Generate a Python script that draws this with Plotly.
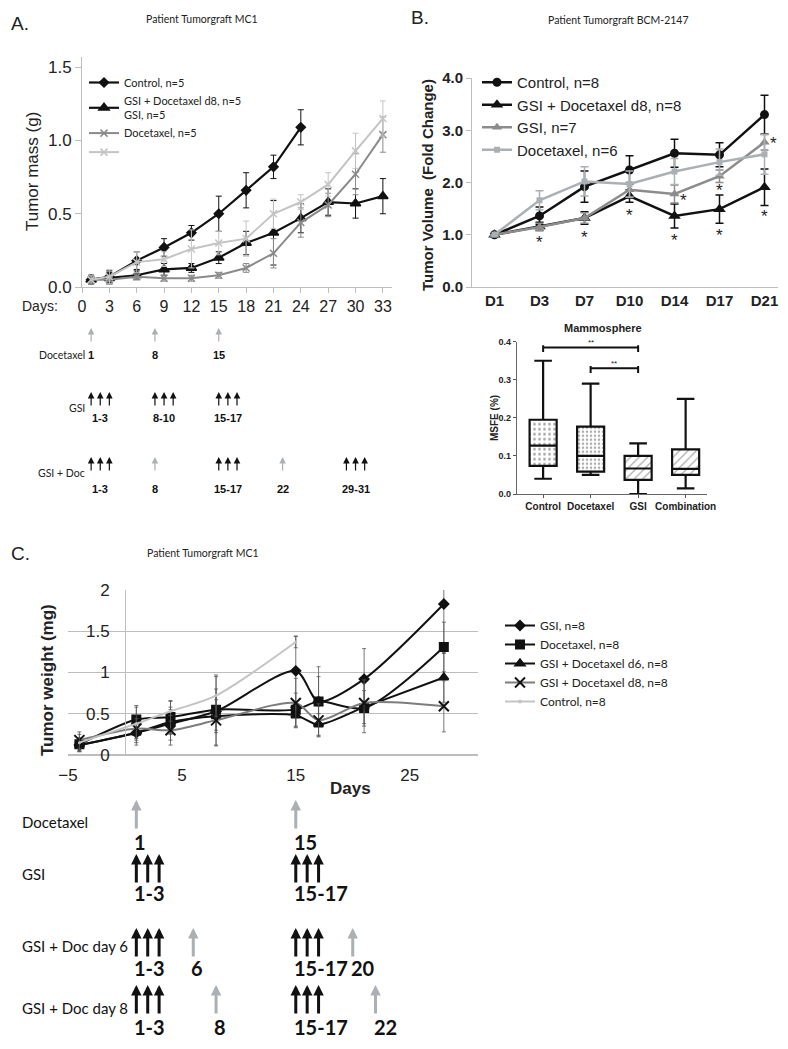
import plotly.graph_objects as go

W, H = 788, 1049
OFF = 8  # page body margin offset of the plot div


def fx(px):
    return (px - OFF) / W


def fy(py):
    return 1 - (py - OFF) / H


# ---------------- Panel A data ----------------
a_days = [1, 3, 6, 9, 12, 15, 18, 21, 24, 27, 30, 33]
a_control = [0.05, 0.07, 0.18, 0.27, 0.37, 0.50, 0.66, 0.82, 1.09]
a_control_err = [0.03, 0.04, 0.06, 0.06, 0.05, 0.12, 0.12, 0.08, 0.12]
a_combo = [0.05, 0.06, 0.08, 0.12, 0.13, 0.20, 0.30, 0.37, 0.47, 0.58, 0.57, 0.62]
a_combo_err = [0.03, 0.04, 0.03, 0.04, 0.03, 0.04, 0.08, 0.22, 0.10, 0.09, 0.10, 0.12]
a_gsi = [0.05, 0.05, 0.07, 0.06, 0.06, 0.08, 0.13, 0.23, 0.44, 0.56, 0.77, 1.04]
a_gsi_err = [0.02, 0.03, 0.02, 0.02, 0.02, 0.02, 0.03, 0.10, 0.10, 0.08, 0.14, 0.12]
a_doc = [0.05, 0.07, 0.17, 0.19, 0.26, 0.30, 0.33, 0.50, 0.58, 0.70, 0.93, 1.15]
a_doc_err = [0.03, 0.05, 0.07, 0.05, 0.13, 0.08, 0.12, 0.10, 0.05, 0.08, 0.12, 0.12]
a_names = ["Control, n=5", "GSI + Docetaxel d8, n=5<br>GSI, n=5", "Docetaxel, n=5", " "]
a_ticks = [0, 3, 6, 9, 12, 15, 18, 21, 24, 27, 30, 33]

# schedule A
a_doc_days = [1, 8, 15]
a_doc_labels = ["1", "8", "15"]
a_gsi_days = [1, 2, 3, 8, 9, 10, 15, 16, 17]
a_gsi_labels = ["1-3", "8-10", "15-17"]
a_cmb_gsi_days = [1, 2, 3, 15, 16, 17, 29, 30, 31]
a_cmb_doc_days = [8, 22]
a_cmb_labels = ["1-3", "8", "15-17", "22", "29-31"]

# ---------------- Panel B data ----------------
b_cats = ["D1", "D3", "D7", "D10", "D14", "D17", "D21"]
b_control = [1.0, 1.36, 1.92, 2.24, 2.56, 2.53, 3.30]
b_control_err = [0.0, 0.17, 0.30, 0.27, 0.27, 0.23, 0.37]
b_combo = [1.0, 1.16, 1.32, 1.74, 1.36, 1.49, 1.91]
b_combo_err = [0.0, 0.08, 0.12, 0.12, 0.23, 0.27, 0.35]
b_gsi = [1.0, 1.15, 1.32, 1.86, 1.78, 2.12, 2.77]
b_gsi_err = [0.0, 0.07, 0.10, 0.14, 0.17, 0.12, 0.15]
b_doc = [1.0, 1.66, 2.02, 1.97, 2.21, 2.39, 2.54]
b_doc_err = [0.0, 0.18, 0.28, 0.25, 0.25, 0.25, 0.38]
b_names = ["Control, n=8", "GSI + Docetaxel d8, n=8", "GSI, n=7", "Docetaxel, n=6"]
b_star_cats = ["D3", "D7", "D10", "D14", "D14", "D17", "D17", "D21", "D21"]
b_star_vals = [0.92, 1.03, 1.45, 0.96, 1.73, 1.06, 1.93, 1.43, 2.82]
b_star_right = [False, False, False, False, True, False, False, False, True]

# mammosphere
m_cats = ["Control", "Docetaxel", "GSI", "Combination"]
m_low = [0.04, 0.05, 0.0, 0.015]
m_q1 = [0.074, 0.059, 0.037, 0.05]
m_med = [0.127, 0.10, 0.067, 0.066]
m_q3 = [0.195, 0.177, 0.10, 0.117]
m_high = [0.35, 0.29, 0.133, 0.25]
m_pattern = [".", ".", "/", "/"]
m_sig_from = ["Control", "Docetaxel"]
m_sig_to = ["GSI", "GSI"]
m_sig_y = [0.385, 0.33]

# ---------------- Panel C data ----------------
c_days = [-4, 1, 4, 8, 15, 17, 21, 28]
c_gsi = [0.12, 0.27, 0.38, 0.53, 1.02, 0.65, 0.92, 1.83]
c_gsi_err = [0.08, 0.15, 0.20, 0.42, 0.42, 0.42, 0.37, 0.60]
c_doc = [0.13, 0.43, 0.46, 0.55, 0.55, 0.65, 0.57, 1.31]
c_doc_err = [0.08, 0.17, 0.20, 0.25, 0.20, 0.30, 0.30, 0.30]
c_d6 = [0.12, 0.27, 0.40, 0.47, 0.48, 0.37, 0.58, 0.94]
c_d6_err = [0.08, 0.12, 0.15, 0.20, 0.14, 0.13, 0.20, 0.30]
c_d8 = [0.18, 0.32, 0.30, 0.42, 0.63, 0.42, 0.63, 0.59]
c_d8_err = [0.10, 0.12, 0.18, 0.30, 0.30, 0.20, 0.28, 0.31]
c_ctrl = [0.15, 0.38, 0.53, 0.72, 1.37]
c_ctrl_err = [0.10, 0.20, 0.12, 0.25, 0.07]
c_names = ["GSI, n=8", "Docetaxel, n=8", "GSI + Docetaxel d6, n=8",
           "GSI + Docetaxel d8, n=8", "Control, n=8"]
c_ticks = [-5, 5, 15, 25]

# schedule C
c_doc_days = [1, 15]
c_doc_labels = ["1", "15"]
c_gsi_days = [1, 2, 3, 15, 16, 17]
c_gsi_labels = ["1-3", "15-17"]
c_d6_doc_days = [6, 20]
c_d6_labels = ["1-3", "6", "15-17", "20"]
c_d8_doc_days = [8, 22]
c_d8_labels = ["1-3", "8", "15-17", "22"]

BLACK = "#111111"
MID = "#8a8a8a"
LIGHT = "#c4c4c4"
AXC = "#bdbdbd"

fig = go.Figure()


def eb(arr, color, w=3, th=1):
    return dict(type="data", array=arr, visible=True, color=color, width=w, thickness=th)


# ---- Panel A traces ----
a_specs = [
    (a_control, a_control_err, BLACK, "diamond", 7, 2.2),
    (a_combo, a_combo_err, BLACK, "triangle-up", 9, 2.2),
    (a_gsi, a_gsi_err, MID, "x-thin", 7, 2),
    (a_doc, a_doc_err, LIGHT, "x-thin", 7, 2),
]
for (vals, err, col, sym, sz, lw), nm in zip(a_specs, a_names):
    fig.add_trace(go.Scatter(
        x=a_days[:len(vals)], y=vals, name=nm, mode="lines+markers",
        line=dict(color=col, width=lw),
        marker=dict(symbol=sym, size=sz, color=col, line=dict(color=col, width=1.5)),
        error_y=eb(err, col), xaxis="x", yaxis="y", legend="legend"))

# ---- Panel B traces ----
b_specs = [
    (b_control, b_control_err, BLACK, "circle", 9, 2.5),
    (b_combo, b_combo_err, BLACK, "triangle-up", 11, 2.5),
    (b_gsi, b_gsi_err, "#8c8c8c", "triangle-up", 9, 2.5),
    (b_doc, b_doc_err, "#aab0b3", "square", 6, 2.5),
]
for (vals, err, col, sym, sz, lw), nm in zip(b_specs, b_names):
    fig.add_trace(go.Scatter(
        x=b_cats, y=vals, name=nm, mode="lines+markers",
        line=dict(color=col, width=lw),
        marker=dict(symbol=sym, size=sz, color=col),
        error_y=eb(err, col, w=4, th=1.5), xaxis="x2", yaxis="y2", legend="legend2"))

# ---- Mammosphere ----
fig.add_trace(go.Bar(
    x=m_cats, base=m_q1, y=[b - a for a, b in zip(m_q1, m_q3)], width=0.57,
    marker=dict(color="white", line=dict(width=0),
                pattern=dict(shape=m_pattern, fgcolor="#555555", bgcolor="white",
                             size=[5, 4, 6, 6], solidity=[0.25, 0.3, 0.2, 0.2])),
    showlegend=False, xaxis="x3", yaxis="y3", hoverinfo="skip"))
fig.add_trace(go.Box(
    x=m_cats, q1=m_q1, median=m_med, q3=m_q3, lowerfence=m_low, upperfence=m_high,
    width=0.57, whiskerwidth=0.65, fillcolor="rgba(0,0,0,0)",
    line=dict(color=BLACK, width=2.2), showlegend=False, xaxis="x3", yaxis="y3"))

# ---- Panel C traces ----
c_specs = [
    (c_gsi, c_gsi_err, BLACK, BLACK, "diamond", 7),
    (c_doc, c_doc_err, BLACK, BLACK, "square", 8),
    (c_d6, c_d6_err, BLACK, BLACK, "triangle-up", 8),
    (c_d8, c_d8_err, "#7d7d7d", BLACK, "x-thin", 10),
    (c_ctrl, c_ctrl_err, LIGHT, LIGHT, "circle", 1),
]
for (vals, err, lcol, mcol, sym, sz), nm in zip(c_specs, c_names):
    fig.add_trace(go.Scatter(
        x=c_days[:len(vals)], y=vals, name=nm, mode="lines+markers",
        line=dict(color=lcol, width=2, shape="spline", smoothing=0.8),
        marker=dict(symbol=sym, size=sz, color=mcol, line=dict(color=mcol, width=2)),
        error_y=eb(err, "#555555", w=2, th=0.8), xaxis="x4", yaxis="y4", legend="legend3"))

ann = []
shapes = []


def text_ann(text, x, y, size, family="Liberation Sans", bold=False, angle=0, xanchor="center",
             xref="paper", yref="paper", color="#222", **kw):
    font = dict(family=family, size=size, color=color)
    if bold:
        font["weight"] = "bold"
    return dict(text=text, x=x, y=y, xref=xref, yref=yref, showarrow=False, textangle=angle,
                xanchor=xanchor, yanchor="middle", font=font, **kw)


# panel letters and titles
for txt, x, y in [("A.", 20, 23), ("B.", 420, 18), ("C.", 20, 553)]:
    ann.append(text_ann(txt, fx(x), fy(y), 19))
for txt, x, y in [("Patient Tumorgraft MC1", 202, 19), ("Patient Tumorgraft BCM-2147", 618, 20),
                  ("Patient Tumorgraft MC1", 203, 553)]:
    ann.append(text_ann(txt, fx(x), fy(y), 10.5, family="Lato"))

# axis titles
ann.append(text_ann("Tumor mass (g)", fx(32), fy(172), 17, angle=-90))
ann.append(text_ann("Days:", fx(40), fy(306), 14))
ann.append(text_ann("Tumor Volume  (Fold Change)", fx(427), fy(185), 15, bold=True, angle=-90))
ann.append(text_ann("Mammosphere", fx(603), fy(328), 11, bold=True))
ann.append(text_ann("MSFE (%)", fx(495), fy(418), 10, bold=True, angle=-90))
ann.append(text_ann("Tumor weight (mg)", fx(47), fy(680), 17, bold=True, angle=-90))
ann.append(text_ann("Days", fx(350), fy(788), 17, bold=True))

# B asterisks
for c, v, r in zip(b_star_cats, b_star_vals, b_star_right):
    ann.append(text_ann("*", c, v, 17, xref="x2", yref="y2", xshift=9 if r else 0, yshift=-4))

# mammosphere significance brackets
for a, b, yv in zip(m_sig_from, m_sig_to, m_sig_y):
    i0, i1 = m_cats.index(a), m_cats.index(b)
    shapes.append(dict(type="line", xref="x3", yref="y3", x0=i0, x1=i1, y0=yv, y1=yv,
                       line=dict(color=BLACK, width=2)))
    for i in (i0, i1):
        shapes.append(dict(type="line", xref="x3", yref="y3", x0=i, x1=i, y0=yv - 0.012, y1=yv + 0.006,
                           line=dict(color=BLACK, width=2)))
    ann.append(text_ann("**", (i0 + i1) / 2, yv, 8, xref="x3", yref="y3", yshift=5))


# dosing schedules
def arrow(xval, xref, head_py, length, color, width, size):
    return dict(x=xval, y=fy(head_py), xref=xref, yref="paper", text="", showarrow=True,
                ax=0, ay=length, arrowhead=2, arrowsize=size, arrowwidth=width, arrowcolor=color)


def label_day(lbl):
    parts = [int(p) for p in lbl.split("-")]
    return sum(parts) / len(parts)


def first_day(lbl):
    return int(lbl.split("-")[0])


GRAYA = "#aab0b3"
# Panel A rows
a_rows = [
    ("Docetaxel", [], a_doc_days, a_doc_labels, 328, 355, 355),
    ("GSI", a_gsi_days, [], a_gsi_labels, 392, 418, 408),
    ("GSI + Doc", a_cmb_gsi_days, a_cmb_doc_days, a_cmb_labels, 457, 489, 473),
]
for name, gdays, ddays, labels, head, lab_y, name_y in a_rows:
    ann.append(text_ann(name, fx(87), fy(name_y), 10.5, family="Lato", xanchor="right"))
    for d in gdays:
        ann.append(arrow(d, "x", head, 15, BLACK, 1.2, 1.1))
    for d in ddays:
        ann.append(arrow(d, "x", head, 15, GRAYA, 1.2, 1.1))
    for lbl in labels:
        ann.append(text_ann(lbl, label_day(lbl), fy(lab_y), 11,
                            family="Liberation Sans Narrow, Liberation Sans", bold=True,
                            xref="x", color="#111"))

# Panel C rows
c_rows = [
    ("Docetaxel", [], c_doc_days, c_doc_labels, 800, 842, 822),
    ("GSI", c_gsi_days, [], c_gsi_labels, 854, 893, 874),
    ("GSI + Doc day 6", c_gsi_days, c_d6_doc_days, c_d6_labels, 928, 968, 946),
    ("GSI + Doc day 8", c_gsi_days, c_d8_doc_days, c_d8_labels, 985, 1027, 1008),
]
for name, gdays, ddays, labels, head, lab_y, name_y in c_rows:
    ann.append(text_ann(name, fx(20), fy(name_y), 15, family="Lato", xanchor="left", color="#111"))
    for d in gdays:
        ann.append(arrow(d, "x4", head, 30, BLACK, 3, 0.7))
    for d in ddays:
        ann.append(arrow(d, "x4", head, 30, GRAYA, 3, 0.7))
    for lbl in labels:
        ann.append(text_ann(lbl, first_day(lbl), fy(lab_y), 20, family="Lato", bold=True,
                            xref="x4", xanchor="left", xshift=-4, color="#111"))

axis_common = dict(showgrid=False, zeroline=False, showline=True, linecolor=AXC, linewidth=1)

fig.update_layout(
    width=W, height=H, margin=dict(l=0, r=0, t=0, b=0, pad=0, autoexpand=False),
    paper_bgcolor="white", plot_bgcolor="white",
    showlegend=True,
    annotations=ann, shapes=shapes,
    xaxis=dict(domain=[fx(82), fx(392)], range=[0, 34], tickvals=a_ticks, anchor="y",
               ticks="outside", ticklen=5, tickcolor=AXC,
               tickfont=dict(family="Liberation Sans", size=16, color="#222"), **axis_common),
    yaxis=dict(domain=[fy(287), fy(57)], range=[0, 1.57], tickvals=[0, 0.5, 1.0, 1.5],
               tickformat=".1f", anchor="x", ticks="outside", ticklen=6, tickcolor=AXC,
               tickfont=dict(family="Liberation Sans", size=17, color="#222"), **axis_common),
    xaxis2=dict(domain=[fx(472), fx(778)], range=[-0.5, 6.3], type="category", anchor="y2",
                ticks="", tickfont=dict(family="Liberation Sans", size=15, color="#222", weight="bold"),
                **axis_common),
    yaxis2=dict(domain=[fy(287), fy(78)], range=[0, 4.0], tickvals=[0, 1, 2, 3, 4], tickformat=".1f",
                anchor="x2", ticks="outside", ticklen=5, tickcolor=AXC,
                tickfont=dict(family="Liberation Sans", size=15, color="#222", weight="bold"),
                **axis_common),
    xaxis3=dict(domain=[fx(517), fx(707)], range=[-0.55, 3.45], type="category", anchor="y3",
                ticks="outside", ticklen=3, tickcolor="#555",
                tickfont=dict(family="Liberation Sans", size=10, color="#222", weight="bold"),
                showgrid=False, zeroline=False, showline=True, linecolor="#666", linewidth=1.2),
    yaxis3=dict(domain=[fy(494), fy(341.7)], range=[0, 0.4], dtick=0.1, tickformat=".1f",
                anchor="x3", ticks="outside", ticklen=3, tickcolor="#555",
                tickfont=dict(family="Liberation Sans", size=9, color="#222", weight="bold"),
                showgrid=False, zeroline=False, showline=True, linecolor="#666", linewidth=1.2),
    xaxis4=dict(domain=[fx(68), fx(478)], range=[-5, 31], tickvals=c_ticks, anchor="y4",
                showgrid=False, zeroline=False, showline=False, ticks="", ticklabelstandoff=8,
                tickfont=dict(family="Liberation Sans", size=17, color="#222")),
    yaxis4=dict(domain=[fy(755), fy(590)], range=[0, 2], dtick=0.5, anchor="free",
                position=fx(125), showgrid=True, gridcolor=AXC, zeroline=True, zerolinecolor=AXC,
                showline=True, linecolor=AXC, ticks="", ticklabelstandoff=12,
                tickfont=dict(family="Liberation Sans", size=17, color="#222")),
    legend=dict(x=fx(84), y=fy(68), xanchor="left", yanchor="top", bgcolor="rgba(0,0,0,0)",
                itemwidth=30, font=dict(family="Lato", size=11, color="#222"), tracegroupgap=0),
    legend2=dict(x=fx(477), y=fy(66), xanchor="left", yanchor="top", bgcolor="rgba(0,0,0,0)",
                 itemwidth=30, font=dict(family="Liberation Sans", size=15, color="#222")),
    legend3=dict(x=fx(500), y=fy(611), xanchor="left", yanchor="top", bgcolor="rgba(0,0,0,0)",
                 itemwidth=30, font=dict(family="Lato", size=12, color="#222")),
)

fig.write_html("out.html")
